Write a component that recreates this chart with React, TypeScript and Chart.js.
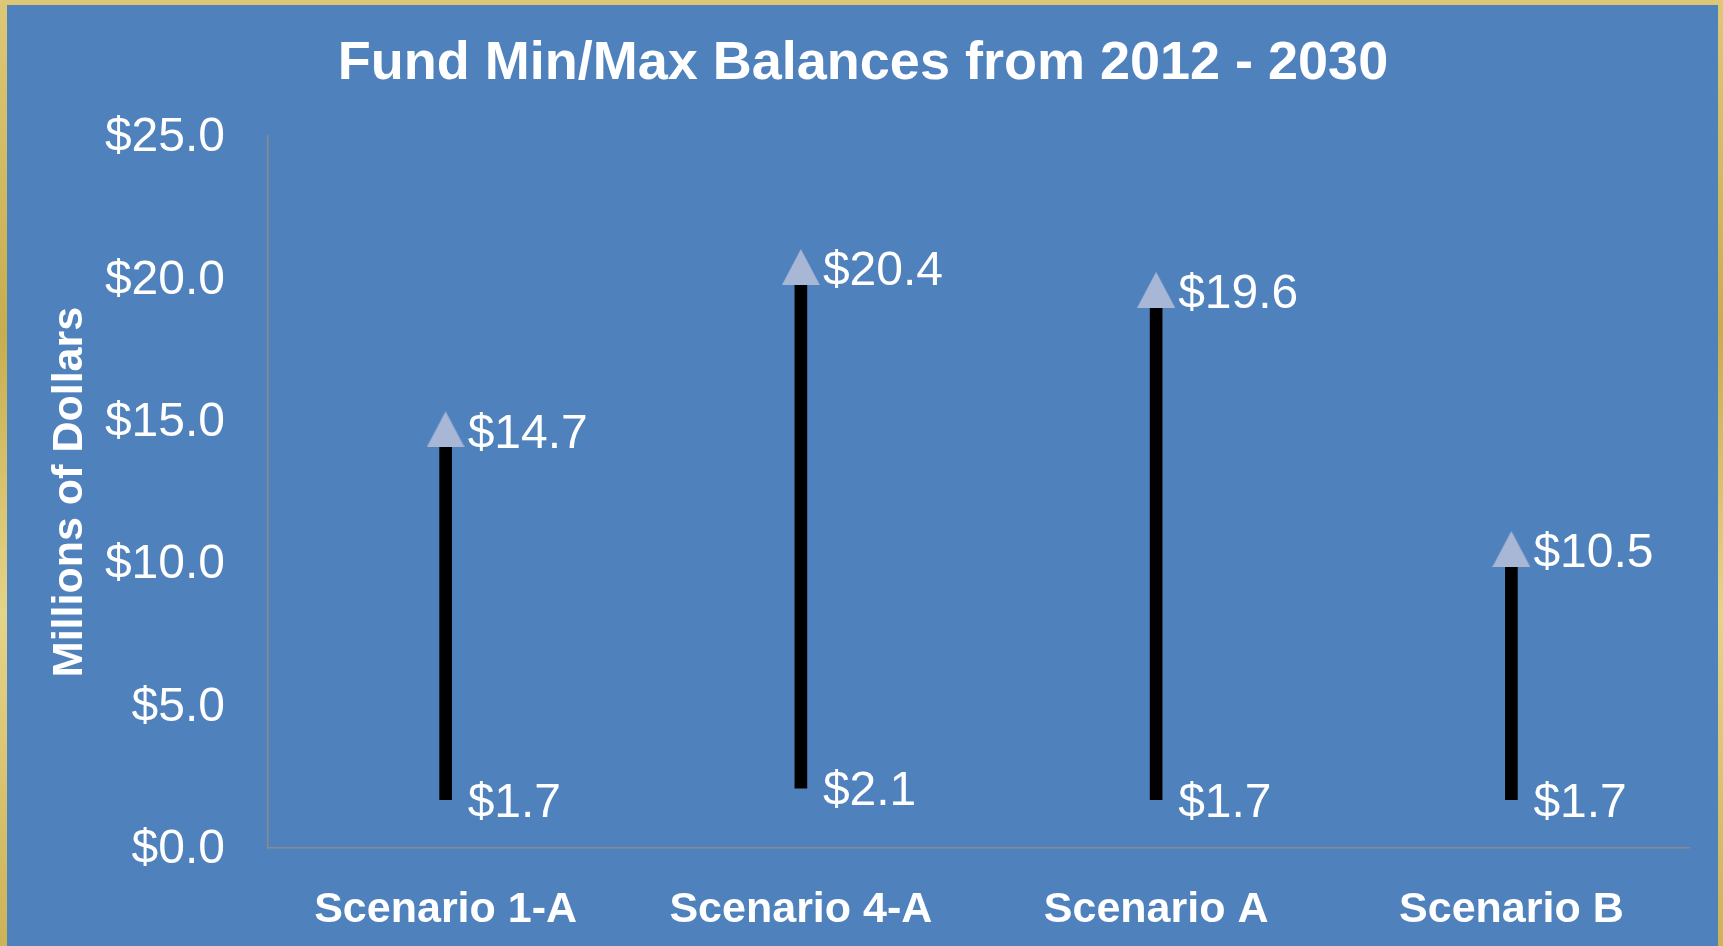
import React, { useEffect, useRef } from "react";
import { Chart, registerables } from "chart.js";

Chart.register(...registerables);

const chartTitle = "Fund Min/Max Balances from 2012 - 2030";
const yAxisTitle = "Millions of Dollars";
const categories = ["Scenario 1-A", "Scenario 4-A", "Scenario A", "Scenario B"];
const maxValues = [14.7, 20.4, 19.6, 10.5];
const minValues = [1.7, 2.1, 1.7, 1.7];
const yMin = 0;
const yMax = 25;
const yStep = 5;

const W = 1723;
const H = 946;
const FONT = '"Liberation Sans", Arial, Helvetica, sans-serif';
const BLUE = "#4F81BD";
const WHITE = "#FFFFFF";
const TRI = "#A8B7D6";
const AXIS = "#8A8A8A";

const fmt = (v: number) => "$" + v.toFixed(1);

function makeTriangle(): HTMLCanvasElement {
  const c = document.createElement("canvas");
  c.width = 38;
  c.height = 36;
  const ctx = c.getContext("2d")!;
  ctx.fillStyle = TRI;
  ctx.beginPath();
  ctx.moveTo(19, 0);
  ctx.lineTo(38, 36);
  ctx.lineTo(0, 36);
  ctx.closePath();
  ctx.fill();
  return c;
}

const backgroundPlugin = {
  id: "bgFrame",
  beforeDraw(chart: any) {
    const { ctx } = chart;
    ctx.save();
    const g = ctx.createLinearGradient(0, 0, 0, H);
    g.addColorStop(0, "#DCC877");
    g.addColorStop(0.35, "#C8AD4E");
    g.addColorStop(0.65, "#E4D488");
    g.addColorStop(1, "#CDB257");
    ctx.fillStyle = g;
    ctx.fillRect(0, 0, W, H);
    ctx.fillStyle = BLUE;
    ctx.fillRect(7, 5, 1718 - 7, H - 5);
    ctx.restore();
  },
};

const titlePlugin = {
  id: "centerTitle",
  afterDraw(chart: any) {
    const { ctx } = chart;
    ctx.save();
    ctx.fillStyle = WHITE;
    ctx.font = `bold 54px ${FONT}`;
    ctx.textAlign = "center";
    ctx.textBaseline = "middle";
    ctx.fillText(chartTitle, 863, 64);
    ctx.restore();
  },
};

const labelPlugin = {
  id: "minMaxLabels",
  afterDatasetsDraw(chart: any) {
    const { ctx, scales } = chart;
    const xs = scales.x;
    const ys = scales.y;
    ctx.save();
    ctx.fillStyle = WHITE;
    ctx.font = `48px ${FONT}`;
    ctx.textAlign = "left";
    ctx.textBaseline = "middle";
    categories.forEach((_, i) => {
      const x = xs.getPixelForValue(i) + 22;
      ctx.fillText(fmt(maxValues[i]), x, ys.getPixelForValue(maxValues[i]) + 5);
      ctx.fillText(fmt(minValues[i]), x, ys.getPixelForValue(minValues[i]) + 4);
    });
    ctx.restore();
  },
};

export default function App() {
  const ref = useRef<HTMLCanvasElement | null>(null);

  useEffect(() => {
    if (!ref.current) return;
    const tri = makeTriangle();
    const chart = new Chart(ref.current, {
      type: "bar",
      data: {
        labels: categories,
        datasets: [
          {
            type: "line",
            label: "Max",
            data: maxValues,
            showLine: false,
            pointStyle: tri as any,
            pointRadius: 18,
            order: 0,
          } as any,
          {
            type: "bar",
            label: "Range",
            data: categories.map((_, i) => [minValues[i], maxValues[i]]),
            backgroundColor: "#000000",
            borderWidth: 0,
            barThickness: 12,
            order: 1,
          } as any,
        ],
      },
      options: {
        responsive: false,
        animation: false,
        layout: { padding: { top: 136, left: 0, right: 34, bottom: 0 } },
        plugins: {
          legend: { display: false },
          tooltip: { enabled: false },
          title: { display: false },
        },
        scales: {
          x: {
            afterFit: (s: any) => {
              s.height = 98;
            },
            grid: { display: true, drawOnChartArea: false, drawTicks: false, color: "rgba(0,0,0,0)" },
            border: { display: true, color: AXIS, width: 1.5 },
            ticks: {
              color: WHITE,
              font: { family: FONT, size: 43, weight: "bold" },
              padding: 36,
              maxRotation: 0,
            },
          },
          y: {
            min: yMin,
            max: yMax,
            afterFit: (s: any) => {
              s.width = 268;
            },
            grid: { display: true, drawOnChartArea: false, drawTicks: false, color: "rgba(0,0,0,0)" },
            border: { display: true, color: AXIS, width: 1.5 },
            ticks: {
              stepSize: yStep,
              color: WHITE,
              font: { family: FONT, size: 48 },
              padding: 43,
              labelOffset: 2,
              callback: (v: any) => fmt(Number(v)),
            },
            title: {
              display: true,
              text: yAxisTitle,
              color: WHITE,
              font: { family: FONT, size: 43, weight: "bold" },
              padding: { top: 44, bottom: 0 },
            },
          },
        },
      },
      plugins: [backgroundPlugin, titlePlugin, labelPlugin],
    });
    return () => chart.destroy();
  }, []);

  return (
    <div style={{ position: "absolute", left: 0, top: 0, width: W, height: H }}>
      <canvas ref={ref} width={W} height={H} style={{ display: "block", width: W, height: H }} />
    </div>
  );
}
